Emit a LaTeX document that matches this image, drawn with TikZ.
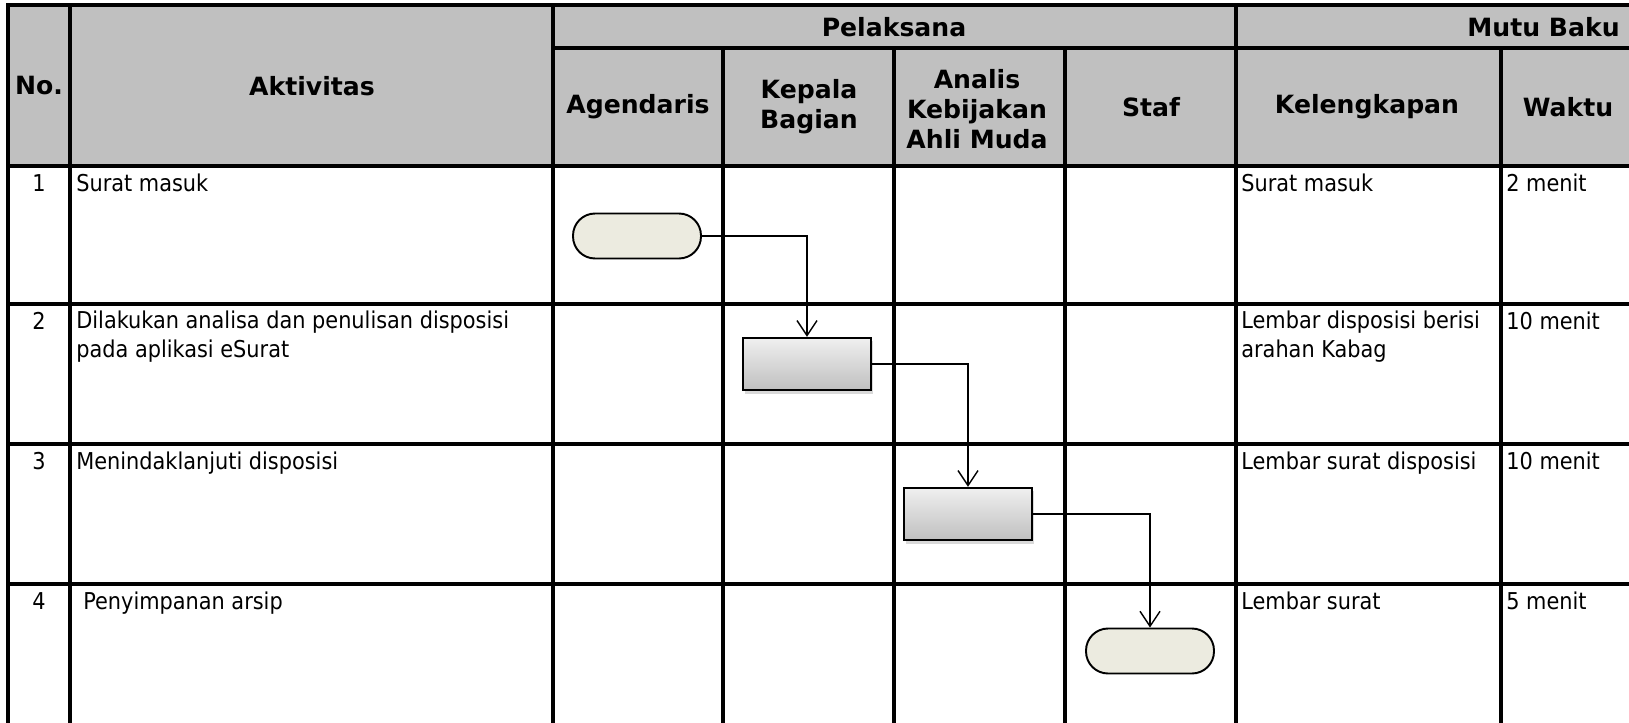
\documentclass[tikz,border=0pt]{standalone}
\usepackage{fontspec}
\setmainfont{DejaVu Sans Condensed}
\newfontfamily\hdrfont{DejaVu Sans}
\usetikzlibrary{arrows.meta,shadows}

\definecolor{hdrgray}{HTML}{C0C0C0}
\definecolor{termfill}{HTML}{ECEBE0}

\begin{document}
\begin{tikzpicture}[x=0.02cm,y=-0.02cm,
  grid/.style={line width=1.8pt},
  hdr/.style={font=\hdrfont\fontsize{14.3}{17}\selectfont\bfseries, align=center, inner sep=0pt},
  cell/.style={font=\fontsize{13.2}{16}\selectfont, align=left, inner sep=0pt, anchor=base west},
  num/.style={font=\fontsize{13.2}{16}\selectfont, inner sep=0pt, anchor=base},
  terminal/.style={draw, line width=1.1pt, rectangle, rounded corners=0.44cm, fill=termfill, minimum width=2.56cm, minimum height=0.9cm},
  activity/.style={draw, line width=1.1pt, rectangle, top color=gray!12, bottom color=gray!50, drop shadow={opacity=0.3, shadow xshift=0.04cm, shadow yshift=-0.07cm}, minimum width=2.57cm, minimum height=1.05cm},
  flow/.style={-{Straight Barb[length=0.3cm, width=0.4cm]}, line width=0.8pt}]
\useasboundingbox (0,0) rectangle (1629,723);

% table
\fill[hdrgray] (8,5) rectangle (1629,166);
\draw[grid] (1629,5) -- (8,5) -- (8,723);
\draw[grid] (70,5) -- (70,723);
\draw[grid] (553,5) -- (553,723);
\draw[grid] (1236,5) -- (1236,723);
\foreach \x in {723,894,1065,1501} \draw[grid] (\x,48) -- (\x,723);
\draw[grid] (553,48) -- (1629,48);
\foreach \y in {166,304,444,584} \draw[grid] (8,\y) -- (1629,\y);

% header
\node[hdr] (hno) at (39,86) {No.};
\node[hdr] (hakt) at (312,86) {Aktivitas};
\node[hdr] (hpel) at (894,27) {Pelaksana};
\node[hdr, anchor=east] (hmutu) at (1620,27) {Mutu Baku};
\node[hdr] (hagd) at (638,107) {Agendaris};
\node[hdr] (hkbg) at (809,107) {Kepala\\Bagian};
\node[hdr] (hana) at (977,109) {Analis\\Kebijakan\\Ahli Muda};
\node[hdr] (hstf) at (1151,107) {Staf};
\node[hdr] (hkel) at (1367,107) {Kelengkapan};
\node[hdr] (hwkt) at (1568,107) {Waktu};

% rows (base of a two-line cell is its last line)
\node[num] (no1) at (39,191) {1};
\node[num] (no2) at (39,329) {2};
\node[num] (no3) at (39,469) {3};
\node[num] (no4) at (39,609) {4};
\node[cell] (akt1) at (76,191) {Surat masuk};
\node[cell] (akt2) at (76,357) {Dilakukan analisa dan penulisan disposisi\\pada aplikasi eSurat};
\node[cell] (akt3) at (76,469) {Menindaklanjuti disposisi};
\node[cell] (akt4) at (83,609) {Penyimpanan arsip};
\node[cell] (kel1) at (1241,191) {Surat masuk};
\node[cell] (kel2) at (1241,357) {Lembar disposisi berisi\\arahan Kabag};
\node[cell] (kel3) at (1241,469) {Lembar surat disposisi};
\node[cell] (kel4) at (1241,609) {Lembar surat};
\node[cell] (wkt1) at (1506,191) {2 menit};
\node[cell] (wkt2) at (1506,329) {10 menit};
\node[cell] (wkt3) at (1506,469) {10 menit};
\node[cell] (wkt4) at (1506,609) {5 menit};

% flow
\node[terminal] (start) at (637,236) {};
\node[activity] (kabag) at (807,364) {};
\node[activity] (analis) at (968,514) {};
\node[terminal] (finish) at (1150,651) {};
\draw[flow] (start.east) -| (kabag.north);
\draw[flow] (kabag.east) -| (analis.north);
\draw[flow] (analis.east) -| (finish.north);
\end{tikzpicture}
\end{document}
